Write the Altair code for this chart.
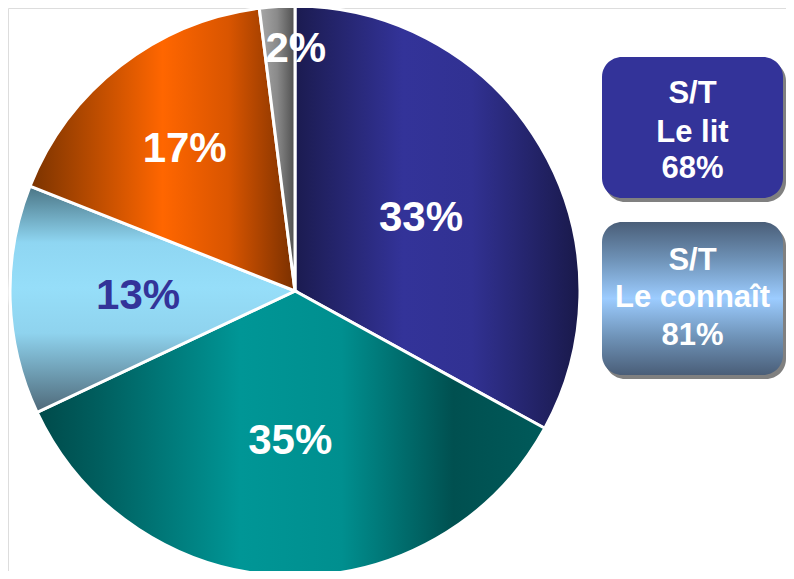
import altair as alt
import pandas as pd

# ---- data ----
slices = ["Segment 1", "Segment 2", "Segment 3", "Segment 4", "Segment 5"]
values = [33, 35, 13, 17, 2]
labels = ["33%", "35%", "13%", "17%", "2%"]

box_titles = ["S/T", "S/T"]
box_names = ["Le lit", "Le connaît"]
box_values = ["68%", "81%"]

df = pd.DataFrame({"slice": slices, "value": values, "label": labels,
                   "order": list(range(len(values)))})
boxes = pd.DataFrame({"title": box_titles, "name": box_names, "val": box_values,
                      "idx": list(range(len(box_titles)))})

# ---- styles ----
CX, CY, R = 287, 283, 285
FONT = "Liberation Sans"


def lin(stops, horizontal=True):
    g = {"gradient": "linear",
         "stops": [{"offset": o, "color": c} for o, c in stops]}
    if horizontal:
        g.update({"x1": 0, "y1": 0, "x2": 1, "y2": 0})
    else:
        g.update({"x1": 0, "y1": 0, "x2": 0, "y2": 1})
    return g


fills = [
    lin([(0, "#1b1b50"), (0.38, "#333399"), (0.62, "#313192"), (1, "#19194a")]),
    lin([(0, "#004a4a"), (0.12, "#005e5e"), (0.4, "#009696"), (0.6, "#008f8f"),
         (0.82, "#005050"), (1, "#005a5a")]),
    lin([(0, "#4a7484"), (0.25, "#8fd6f2"), (0.45, "#96def9"), (0.65, "#8fd3ee"),
         (1, "#4e6878")], horizontal=False),
    lin([(0, "#7a3300"), (0.5, "#ff6600"), (0.75, "#d95500"), (1, "#7a3000")]),
    lin([(0, "#a8a8a8"), (0.5, "#8a8a8a"), (1, "#4e4e4e")]),
]
label_colors = ["white", "white", "#333399", "white", "white"]
label_radius = [144, 150, 157, 180, 242]
label_dx = [2, 0, 0, 0, 16]

sc = alt.Scale(domain=[0, 100])

base = alt.Chart(df).transform_window(
    cum="sum(value)", sort=[alt.SortField("order")], frame=[None, 0]
).transform_calculate(
    start="datum.cum - datum.value",
    mid="datum.cum - datum.value / 2",
)

layers = []
for i in range(len(values)):
    b = base.transform_filter(f"datum.order == {i}")
    layers.append(
        b.mark_arc(fill=fills[i], stroke="white", strokeWidth=3, radius=R).encode(
            theta=alt.Theta("start:Q", scale=sc),
            theta2="cum:Q",
            x=alt.value(CX), y=alt.value(CY),
        )
    )
for i in range(len(values)):
    b = base.transform_filter(f"datum.order == {i}")
    layers.append(
        b.mark_text(font=FONT, fontWeight="bold", fontSize=42, color=label_colors[i],
                    radius=label_radius[i], dx=label_dx[i], align="center",
                    baseline="middle").encode(
            theta=alt.Theta("mid:Q", scale=sc),
            text="label:N",
            x=alt.value(CX), y=alt.value(CY),
        )
    )

# ---- boxes ----
BX1, BX2 = 594, 775
box_y = [(49, 190), (214, 367)]
box_fill = ["#333399",
            lin([(0, "#4a5e78"), (0.25, "#6f93b8"), (0.5, "#9cccff"), (0.75, "#6f93b8"),
                 (1, "#4a5e78")], horizontal=False)]
line_base = [(95, 134, 170), (262, 299, 337)]

bsrc = alt.Chart(boxes)
for j in range(len(box_titles)):
    bj = bsrc.transform_filter(f"datum.idx == {j}")
    y1, y2 = box_y[j]
    layers.append(bj.mark_rect(fill="#808080", cornerRadius=20).encode(
        x=alt.value(BX1 + 3), x2=alt.value(BX2 + 3),
        y=alt.value(y1 + 4), y2=alt.value(y2 + 4)))
    layers.append(bj.mark_rect(fill=box_fill[j], cornerRadius=20).encode(
        x=alt.value(BX1), x2=alt.value(BX2),
        y=alt.value(y1), y2=alt.value(y2)))
    for k, field in enumerate(["title", "name", "val"]):
        layers.append(bj.mark_text(font=FONT, fontWeight="bold", fontSize=31,
                                   color="white", align="center",
                                   baseline="alphabetic").encode(
            text=f"{field}:N",
            x=alt.value((BX1 + BX2) / 2), y=alt.value(line_base[j][k])))

chart = alt.layer(*layers).properties(
    width=778, height=563,
    autosize=alt.AutoSizeParams(type="none"),
    padding=0,
).configure_view(stroke="transparent", strokeWidth=0).configure(background="white")

chart.save("out.html", embed_options={"renderer": "svg", "actions": False})
